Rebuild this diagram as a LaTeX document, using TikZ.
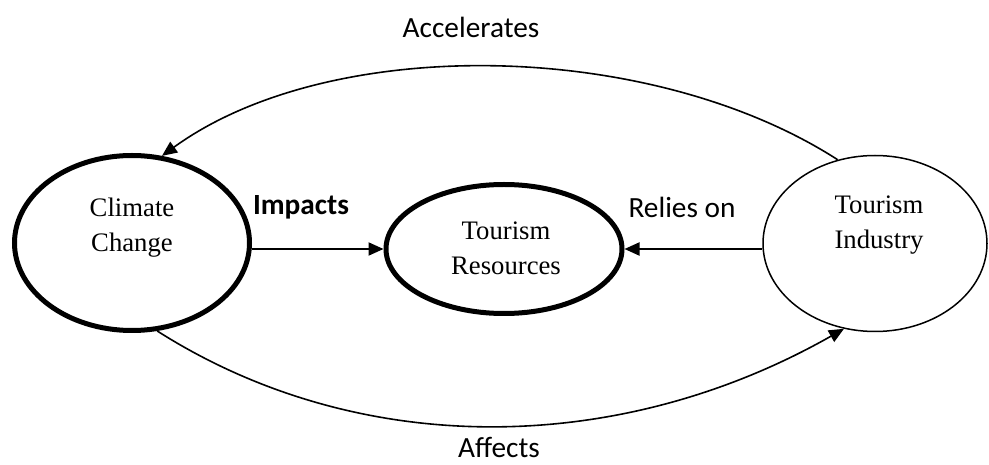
\documentclass[tikz,border=0pt]{standalone}
\usepackage{fontspec}
\setmainfont{Liberation Serif}
\newfontfamily\labfont{Carlito}
\usetikzlibrary{shapes.geometric,arrows.meta}
\tikzset{
  ellthick/.style={draw, ellipse, line width=5pt, inner sep=0pt},
  ellthin/.style={draw, ellipse, line width=1.5pt, inner sep=0pt},
  inside/.style={align=center, font=\fontsize{26.7}{35}\selectfont, inner sep=0pt},
  lab/.style={font=\labfont\fontsize{29.3}{35}\selectfont, inner sep=0pt, anchor=base},
  arr/.style={line width=2pt, -{Triangle[length=15pt,width=13pt]}},
  curv/.style={line width=1.6pt, -{Triangle[length=15pt,width=13pt]}}
}
\begin{document}
\begin{tikzpicture}[x=1pt,y=1pt]
\useasboundingbox (0,0) rectangle (989,464);
\node[ellthick, minimum width=235pt, minimum height=175pt] (CC) at (132,221) {};
\node[ellthick, minimum width=236pt, minimum height=129pt] (TR) at (504,215) {};
\node[ellthin, minimum width=224pt, minimum height=176pt] (TI) at (875,220.5) {};
\node[inside] (CCt) at (132,236) {Climate\\Change};
\node[inside] (TRt) at (506,216) {Tourism\\Resources};
\node[inside] (TIt) at (879,239) {Tourism\\Industry};
\draw[arr] (CC.east |- TR.west) -- (TR.west);
\draw[arr] (TI.west |- TR.east) -- (TR.east);
\draw[curv] (TI.114) .. controls (650,425) and (330,430) .. (CC.71);
\draw[curv] (CC.-74) .. controls (360,4) and (620,8) .. (TI.250);
\node[lab] (acc) at (471,426) {Accelerates};
\node[lab, font=\labfont\bfseries\fontsize{29.3}{35}\selectfont] (imp) at (301,249) {Impacts};
\node[lab] (rel) at (682,246) {Relies on};
\node[lab] (aff) at (499,7) {Affects};
\end{tikzpicture}
\end{document}
